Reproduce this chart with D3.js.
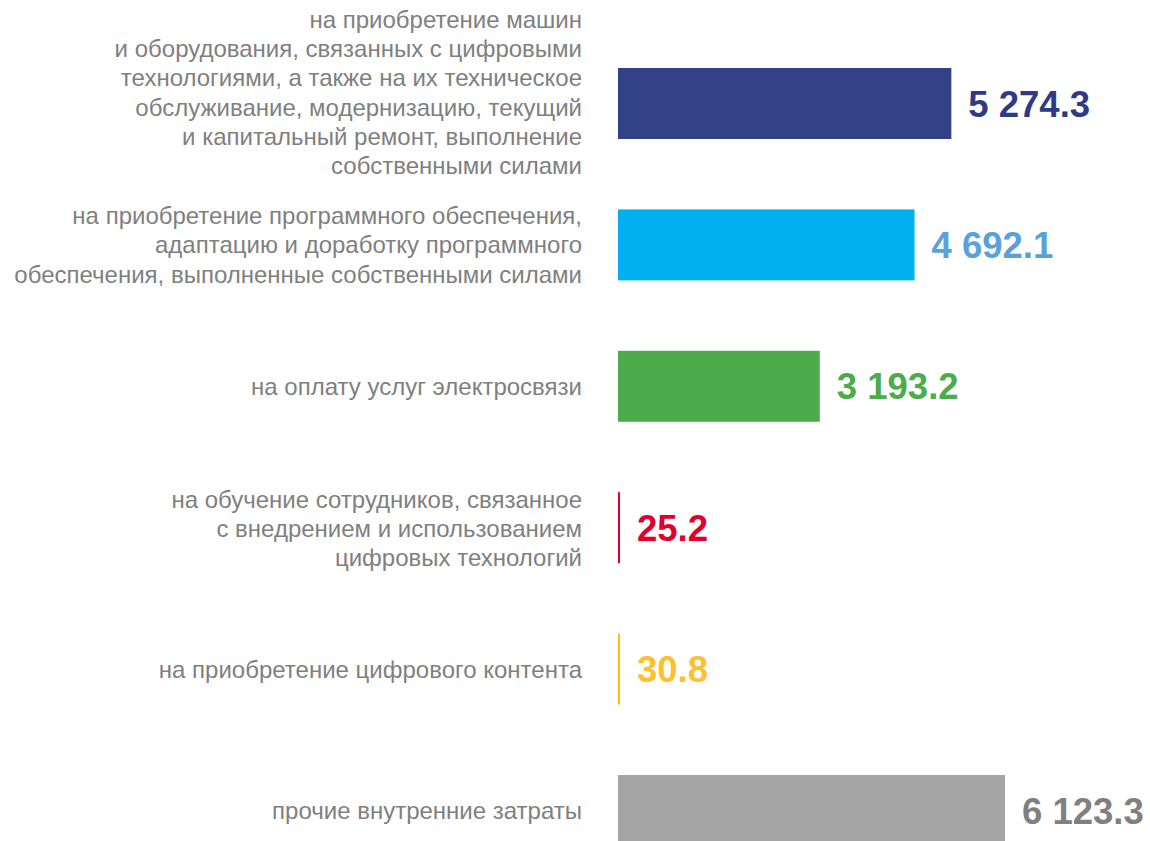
<!DOCTYPE html>
<html><head><meta charset="utf-8">
<script src="https://cdn.jsdelivr.net/npm/d3@7"></script>
<style>html,body{margin:0;padding:0;background:#fff;}svg{display:block;}</style>
</head><body>
<svg id="chart" width="1150" height="841"></svg>
<script>
const categories = [
  ["на приобретение машин","и оборудования, связанных с цифровыми","технологиями, а также на их техническое","обслуживание, модернизацию, текущий","и капитальный ремонт, выполнение","собственными силами"],
  ["на приобретение программного обеспечения,","адаптацию и доработку программного","обеспечения, выполненные собственными силами"],
  ["на оплату услуг электросвязи"],
  ["на обучение сотрудников, связанное","с внедрением и использованием","цифровых технологий"],
  ["на приобретение цифрового контента"],
  ["прочие внутренние затраты"]
];
const values = [5274.3, 4692.1, 3193.2, 25.2, 30.8, 6123.3];
const valueLabels = ["5 274.3", "4 692.1", "3 193.2", "25.2", "30.8", "6 123.3"];
const barColors = ["#334287", "#00b0f0", "#4cac4c", "#e0002b", "#ffc000", "#a5a5a5"];
const textColors = ["#2e3a86", "#58a2d9", "#4cac4c", "#e0002b", "#ffc02f", "#808080"];
const labelShift = [-11, 0, 0, 1, 0, 0];

const svg = d3.select("#chart");
const idx = d3.range(values.length);
const x = d3.scaleLinear().domain([0, 6123.3]).range([618, 1005]);
const y = d3.scaleBand().domain(idx).range([68, 846]).paddingInner(0.498).paddingOuter(0);

svg.selectAll("rect.bar").data(idx).join("rect")
  .attr("class","bar")
  .attr("x", x(0))
  .attr("y", i => y(i))
  .attr("width", i => Math.max(2, x(values[i]) - x(0)))
  .attr("height", y.bandwidth())
  .attr("fill", i => barColors[i]);

svg.selectAll("text.val").data(idx).join("text")
  .attr("class","val")
  .attr("x", i => Math.max(x(values[i]), x(0)+2) + 17)
  .attr("y", i => y(i) + y.bandwidth()/2)
  .attr("dy", "0.36em")
  .attr("fill", i => textColors[i])
  .style("font-family", "'Liberation Sans', Arial, sans-serif")
  .style("font-weight", "bold")
  .style("font-size", "36.5px")
  .text(i => valueLabels[i]);

const lh = 29.3;
const g = svg.selectAll("text.cat").data(idx).join("text")
  .attr("class","cat")
  .attr("text-anchor","end")
  .attr("fill","#7f7f7f")
  .style("font-family", "'Liberation Sans', Arial, sans-serif")
  .style("font-size", "24px");
g.each(function(i){
  const lines = categories[i];
  const cy = y(i) + y.bandwidth()/2 + labelShift[i];
  const t0 = cy - (lines.length-1)*lh/2;
  d3.select(this).selectAll("tspan").data(lines).join("tspan")
    .attr("x", 582)
    .attr("y", (d,k) => t0 + k*lh)
    .attr("dy","0.35em")
    .text(d => d);
});
</script>
</body></html>
